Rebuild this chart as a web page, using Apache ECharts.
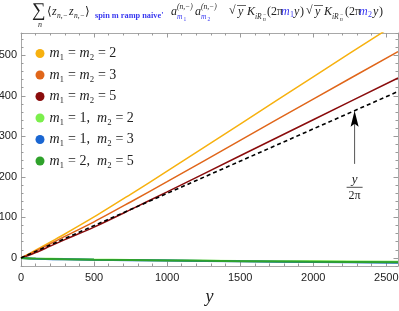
<!DOCTYPE html>
<html><head><meta charset="utf-8">
<script src="https://cdn.jsdelivr.net/npm/echarts@6/dist/echarts.min.js"></script>
<style>html,body{margin:0;padding:0;background:#fff}#c{width:399px;height:311px}</style>
</head><body><div id="c"></div>
<script>
// ---- data ----
var xsMain = [0, 50, 100, 200, 300, 500, 750, 1000, 1500, 2000, 2580];
var m22 = [0, 9, 19, 39, 59, 101, 157, 214, 330, 447, 581];
var m33 = [0, 8, 17, 35, 53, 89, 138, 188, 290, 392, 509];
var m55 = [0, 6, 13, 29, 45, 76, 119, 163, 252, 341, 444];
var xsGreen = [0, 100, 300, 500, 1000, 1500, 2000, 2580];
var m12 = [0, -1.5, -3, -4, -6, -7.5, -8.5, -9.5];
var m13 = [0, -2, -3.5, -4.5, -6.5, -8.5, -10, -12];
var m25 = [0, -1.8, -3.3, -4.3, -6.3, -8, -9.3, -11];
var xsDash = [0, 1000, 2000, 2580];
var yOver2pi = [0, 159.2, 318.3, 410.6];
var yTickLabels = [0, 100, 200, 300, 400, 500];
var arrowAt = [2283, 363, 232]; // x, tip value, tail value
var names = ['m1=m2=2', 'm1=m2=3', 'm1=m2=5', 'm1=1,m2=2', 'm1=1,m2=3', 'm1=2,m2=5'];
var colors = ['#f7b10f', '#e0661a', '#8a0c0c', '#7bef4c', '#1a66d2', '#2fa22b'];

function zip(a, b) { return a.map(function (v, i) { return [v, b[i]]; }); }

var serif = "'Liberation Serif','DejaVu Serif',serif";
var sans = "'Liberation Sans',Arial,sans-serif";
var frameCol = '#a8a8a8';
var tickCol = '#9a9a9a';

var legendText = {
  'm1=m2=2': '{i|m}₁ = {i|m}₂ = 2',
  'm1=m2=3': '{i|m}₁ = {i|m}₂ = 3',
  'm1=m2=5': '{i|m}₁ = {i|m}₂ = 5',
  'm1=1,m2=2': '{i|m}₁ = 1,  {i|m}₂ = 2',
  'm1=1,m2=3': '{i|m}₁ = 1,  {i|m}₂ = 3',
  'm1=2,m2=5': '{i|m}₁ = 2,  {i|m}₂ = 5'
};

function xAx(pos, major) {
  return {
    type: 'value', position: pos, min: 0, max: 2580, interval: major ? 500 : 100,
    axisLine: { show: major, onZero: false, lineStyle: { color: frameCol, width: 1 } },
    axisTick: { show: true, inside: true, length: major ? 4.5 : 2.5, lineStyle: { color: tickCol } },
    axisLabel: { show: major && pos === 'bottom', color: '#222', fontFamily: sans, fontSize: 11, margin: 6,
      showMaxLabel: false, formatter: function (v) { return String(v); } },
    splitLine: { show: false }
  };
}
function yAx(pos, major) {
  var a = {
    type: 'value', position: pos, min: -20, max: 555,
    axisLine: { show: major, onZero: false, lineStyle: { color: frameCol, width: 1 } },
    axisTick: { show: true, inside: true, length: major ? 4.5 : 2.5, lineStyle: { color: tickCol } },
    axisLabel: { show: major && pos === 'left', color: '#222', fontFamily: sans, fontSize: 11, margin: 4,
      formatter: function (v) { return String(v); } },
    splitLine: { show: false }
  };
  if (major) {
    a.axisTick.customValues = yTickLabels;
    a.axisLabel.customValues = yTickLabels;
  } else {
    a.interval = 20;
  }
  return a;
}

var xA = [xAx('bottom', true), xAx('bottom', false), xAx('top', true), xAx('top', false)];
xA[0].name = 'y';
xA[0].nameLocation = 'middle';
xA[0].nameGap = 22;
xA[0].nameTextStyle = { fontFamily: serif, fontStyle: 'italic', fontSize: 18, color: '#222' };

var series = [];
var sets = [zip(xsMain, m22), zip(xsMain, m33), zip(xsMain, m55), zip(xsGreen, m12), zip(xsGreen, m13), zip(xsGreen, m25)];
sets.forEach(function (d, i) {
  series.push({
    name: names[i], type: 'line', data: d, showSymbol: false, smooth: 0.3, animation: false,
    lineStyle: { color: colors[i], width: i < 3 ? 1.5 : 2 }, itemStyle: { color: colors[i] }
  });
});
series.push({
  name: 'y/2pi', type: 'line', data: zip(xsDash, yOver2pi), showSymbol: false, animation: false,
  lineStyle: { color: '#000', width: 1.6, type: [4, 3] }, z: 3
});

var chart = echarts.init(document.getElementById('c'), null, { renderer: 'canvas' });
chart.setOption({
  animation: false,
  grid: { left: 21, right: 1, top: 33, bottom: 45, containLabel: false, outerBoundsMode: 'none' },
  xAxis: xA,
  yAxis: [yAx('left', true), yAx('left', false), yAx('right', true), yAx('right', false)],
  legend: {
    data: names, orient: 'vertical', left: 35.5, top: 46.5, padding: 0, itemWidth: 9, itemHeight: 9, itemGap: 7.5,
    icon: 'circle', selectedMode: false,
    formatter: function (n) { return legendText[n]; },
    textStyle: { fontFamily: serif, fontSize: 14, color: '#222', lineHeight: 14,
      rich: { i: { fontFamily: serif, fontStyle: 'italic', fontSize: 14, color: '#222', lineHeight: 14 } } }
  },
  series: series
});

// ---- title (math typesetting) ----
var blue = '#3a3af0';
function T(x, y, s, size, opt) {
  opt = opt || {};
  return { type: 'text', left: x, top: y - size / 2, silent: true,
    style: { text: s, fontFamily: opt.sans ? sans : serif, fontSize: size, fontStyle: opt.it ? 'italic' : 'normal',
      fontWeight: opt.bold ? 'bold' : 'normal', fill: opt.c || '#222' } };
}
var g = [
  T(32, 11, '∑', 19),
  T(38, 25, 'n', 8, { it: 1 }),
  T(47, 12, '⟨', 12),
  T(52, 12, 'z', 12, { it: 1 }),
  T(57, 16, 'n,−', 7.5, { it: 1 }),
  T(69, 12, 'z', 12, { it: 1 }),
  T(74, 16, 'n,−', 7.5, { it: 1 }),
  T(85, 12, '⟩', 12),
  T(95, 16, "spin m ramp naive'", 8.3, { c: blue, bold: 1 }),
  T(171, 12, 'a', 12, { it: 1 }),
  T(177, 7, '(n,−)', 7.5, { it: 1 }),
  T(177, 17, 'm', 7.5, { it: 1, c: blue }),
  T(183.5, 19, '1', 5.5, { c: blue }),
  T(195, 12, 'a', 12, { it: 1 }),
  T(201, 7, '(n,−)', 7.5, { it: 1 }),
  T(201, 17, 'm', 7.5, { it: 1, c: blue }),
  T(207.5, 19, '2', 5.5, { c: blue }),
  T(229, 11, '√', 12),
  T(238, 12, 'y', 12, { it: 1 }),
  T(247, 12, 'K', 12, { it: 1 }),
  T(255, 17, 'iR', 7.5, { it: 1 }),
  T(263, 19, 'n', 5.5, { it: 1 }),
  T(263, 14, '−', 5.5),
  T(267, 12, '(2π', 12),
  T(281, 12, 'm', 12, { it: 1, c: blue }),
  T(290, 15, '1', 8, { c: blue }),
  T(294, 12, 'y', 12, { it: 1 }),
  T(300, 12, ')', 12),
  T(306, 11, '√', 12),
  T(315, 12, 'y', 12, { it: 1 }),
  T(324, 12, 'K', 12, { it: 1 }),
  T(332, 17, 'iR', 7.5, { it: 1 }),
  T(340, 19, 'n', 5.5, { it: 1 }),
  T(340, 14, '−', 5.5),
  T(345, 12, '(2π', 12),
  T(359, 12, 'm', 12, { it: 1, c: blue }),
  T(368, 15, '2', 8, { c: blue }),
  T(373, 12, 'y', 12, { it: 1 }),
  T(379, 12, ')', 12),
  { type: 'line', silent: true, shape: { x1: 237, y1: 5.5, x2: 246, y2: 5.5 }, style: { stroke: '#222', lineWidth: 0.7 } },
  { type: 'line', silent: true, shape: { x1: 314, y1: 5.5, x2: 323, y2: 5.5 }, style: { stroke: '#222', lineWidth: 0.7 } }
];

// ---- arrow annotation pointing at y/2π ----
var tip = chart.convertToPixel({ xAxisIndex: 0, yAxisIndex: 0 }, [arrowAt[0], arrowAt[1]]);
var tail = chart.convertToPixel({ xAxisIndex: 0, yAxisIndex: 0 }, [arrowAt[0], arrowAt[2]]);
var ax = tip[0], ay = tip[1];
g.push({ type: 'line', silent: true, z: 10, shape: { x1: ax, y1: ay + 12, x2: ax, y2: tail[1] }, style: { stroke: '#555', lineWidth: 1 } });
g.push({ type: 'polygon', silent: true, z: 10, shape: { points: [[ax, ay], [ax + 4, ay + 16], [ax, ay + 13], [ax - 4, ay + 16]] }, style: { fill: '#000' } });
g.push({ type: 'text', silent: true, z: 10, style: { text: 'y', x: ax, y: ay + 69, fontFamily: serif, fontStyle: 'italic', fontSize: 13, fill: '#222', align: 'center', verticalAlign: 'middle' } });
g.push({ type: 'line', silent: true, z: 10, shape: { x1: ax - 8, y1: ay + 76.5, x2: ax + 8, y2: ay + 76.5 }, style: { stroke: '#222', lineWidth: 0.8 } });
g.push({ type: 'text', silent: true, z: 10, style: { text: '2π', x: ax, y: ay + 85, fontFamily: serif, fontSize: 12, fill: '#222', align: 'center', verticalAlign: 'middle' } });

chart.setOption({ graphic: g });
</script></body></html>
